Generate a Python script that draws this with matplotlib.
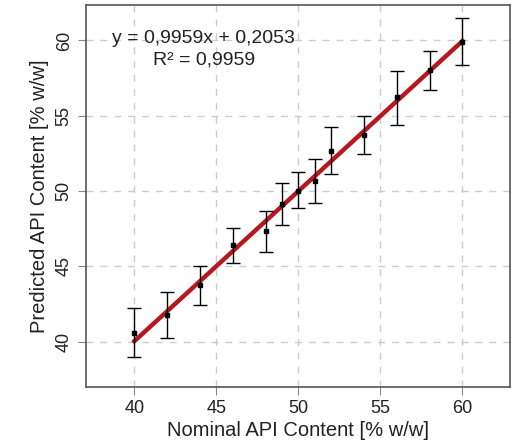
import numpy as np
import matplotlib
matplotlib.use('Agg')
import matplotlib.pyplot as plt

plt.rcParams['font.family'] = ['Liberation Sans', 'DejaVu Sans']

# Data
nominal = [40, 42, 44, 46, 48, 49, 50, 51, 52, 54, 56, 58, 60]
predicted = [40.61, 41.75, 43.75, 46.41, 47.36, 49.13, 50.02, 50.68, 52.68, 53.73, 56.27, 58.06, 59.9]
lower = [38.96, 40.25, 42.43, 45.23, 45.96, 47.73, 48.86, 49.18, 51.11, 52.48, 54.4, 56.73, 58.4]
upper = [42.25, 43.3, 45.04, 47.55, 48.7, 50.56, 51.25, 52.16, 54.25, 55.0, 58.0, 59.3, 61.47]
slope = 0.9959
intercept = 0.2053
fit_x = [40, 60]

predicted = np.array(predicted)
yerr = [predicted - np.array(lower), np.array(upper) - predicted]

fig = plt.figure(figsize=(5.18, 4.43), dpi=100)
ax = fig.add_axes([86 / 518, 1 - 387 / 443, 424 / 518, 382 / 443])

ax.grid(True, color='#cccccc', linestyle=(0, (5, 5)), linewidth=1)
ax.set_axisbelow(True)

fx = np.array(fit_x)
ax.plot(fx, slope * fx + intercept, color='#b5191f', linewidth=3.2, zorder=2)
ax.errorbar(nominal, predicted, yerr=yerr, fmt='s', color='black', markersize=3.5,
            ecolor='black', elinewidth=1, capsize=5, capthick=1, zorder=3)

ax.set_xlim(37.05, 62.9)
ax.set_ylim(37.0, 62.35)
ax.set_xticks([40, 45, 50, 55, 60])
ax.set_yticks([40, 45, 50, 55, 60])
ax.tick_params(axis='both', direction='out', length=5.5, color='#888888',
               labelsize=13, labelcolor='#222222', pad=4)
for lab in ax.get_yticklabels():
    lab.set_rotation(90)
    lab.set_va('center')
for s in ax.spines.values():
    s.set_color('#555555')
    s.set_linewidth(1.2)

ax.set_xlabel('Nominal API Content [% w/w]', fontsize=14.5, color='#222222', labelpad=3)
ax.set_ylabel('Predicted API Content [% w/w]', fontsize=14.5, color='#222222', labelpad=5)

ax.text(0.276, 0.913, 'y = 0,9959x + 0,2053', transform=ax.transAxes, fontsize=14,
        ha='center', va='center', color='#222222')
ax.text(0.278, 0.856, 'R² = 0,9959', transform=ax.transAxes, fontsize=14,
        ha='center', va='center', color='#222222')

fig.savefig('out.png', dpi=100)
